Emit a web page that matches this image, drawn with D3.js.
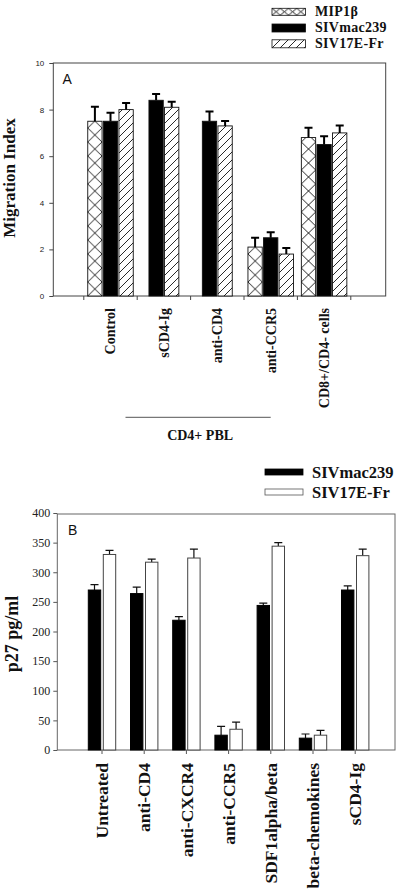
<!DOCTYPE html>
<html><head><meta charset="utf-8">
<script src="https://cdn.jsdelivr.net/npm/d3@7"></script>
<style>
html,body{margin:0;padding:0;background:#fff;}
svg{display:block;}
</style></head>
<body>
<svg id="chart" width="400" height="896"></svg>
<script>
// ---------- Panel A data ----------
const catsA = ["Control", "sCD4-Ig", "anti-CD4", "anti-CCR5", "CD8+/CD4- cells"];
const seriesA = ["MIP1β", "SIVmac239", "SIV17E-Fr"];
const mipA = [7.5, null, null, 2.1, 6.8];
const mipAErr = [0.62, null, null, 0.4, 0.42];
const macA = [7.5, 8.4, 7.5, 2.5, 6.5];
const macAErr = [0.37, 0.27, 0.42, 0.24, 0.36];
const frA = [8.0, 8.1, 7.3, 1.8, 7.0];
const frAErr = [0.28, 0.24, 0.21, 0.26, 0.32];
const yTicksA = [0, 2, 4, 6, 8, 10];
const groupLabelA = "CD4+ PBL";

// ---------- Panel B data ----------
const catsB = ["Untreated", "anti-CD4", "anti-CXCR4", "anti-CCR5", "SDF1alpha/beta", "beta-chemokines", "sCD4-Ig"];
const seriesB = ["SIVmac239", "SIV17E-Fr"];
const macB = [270, 264, 219, 25, 244, 20, 270];
const macBErr = [9, 11, 6, 15, 4, 7, 7];
const frB = [330, 317, 324, 35, 344, 25, 328];
const frBErr = [7, 5, 15, 12, 6, 8, 11];
const yTicksB = [0, 50, 100, 150, 200, 250, 300, 350, 400];

const serif = "'Liberation Serif','Times New Roman',serif";
const sans = "'Liberation Sans',Arial,sans-serif";

const svg = d3.select("#chart");
const defs = svg.append("defs");

// hatch pattern
const hatch = defs.append("pattern").attr("id", "hatch")
  .attr("patternUnits", "userSpaceOnUse").attr("width", 8).attr("height", 8);
hatch.append("rect").attr("width", 8).attr("height", 8).attr("fill", "#fff");
hatch.append("path").attr("d", "M0,8 L8,0 M-2,2 L2,-2 M6,10 L10,6")
  .attr("stroke", "#111").attr("stroke-width", 0.9);

function crossPattern(id, x, y, w, h) {
  const p = defs.append("pattern").attr("id", id)
    .attr("patternUnits", "userSpaceOnUse")
    .attr("x", x).attr("y", y).attr("width", w).attr("height", h);
  p.append("rect").attr("width", w).attr("height", h).attr("fill", "#fff");
  p.append("path").attr("d", `M0,0 L${w},${h} M${w},0 L0,${h}`)
    .attr("stroke", "#111").attr("stroke-width", 0.9);
}

// ================= PANEL A =================
const A = {left: 53.3, right: 385.7, top: 63, bottom: 296};
const yA = d3.scaleLinear().domain([0, 10]).range([A.bottom, A.top]);
const xA = d3.scaleBand().domain(catsA).range([83.8, 350.8]).padding(0);
const bwA = 14.3, stepA = 15.6;

const gA = svg.append("g");
gA.append("rect").attr("x", A.left).attr("y", A.top)
  .attr("width", A.right - A.left).attr("height", A.bottom - A.top)
  .attr("fill", "none").attr("stroke", "#444").attr("stroke-width", 1);

const axA = gA.append("g").attr("transform", `translate(${A.left},0)`)
  .call(d3.axisLeft(yA).tickValues(yTicksA).tickSize(4).tickPadding(5));
axA.select(".domain").remove();
axA.selectAll("line").attr("stroke", "#444");
axA.selectAll("text").attr("font-family", sans).attr("font-size", 8).attr("fill", "#222");

const bTicksA = catsA.map(c => xA(c)).concat([xA.range()[1]]);
gA.selectAll(".btA").data(bTicksA).join("line")
  .attr("x1", d => d).attr("x2", d => d)
  .attr("y1", A.bottom).attr("y2", A.bottom + 4)
  .attr("stroke", "#444");

const barsA = [];
catsA.forEach((c, i) => {
  const items = [];
  if (mipA[i] != null) items.push({s: 0, v: mipA[i], e: mipAErr[i]});
  if (macA[i] != null) items.push({s: 1, v: macA[i], e: macAErr[i]});
  if (frA[i] != null) items.push({s: 2, v: frA[i], e: frAErr[i]});
  const cx = xA(c) + xA.bandwidth() / 2;
  items.forEach((it, k) => {
    const center = cx + (k - (items.length - 1) / 2) * stepA;
    barsA.push({...it, c, i, x: center - bwA / 2, cx: center});
  });
});
barsA.forEach((b, j) => {
  if (b.s === 0) crossPattern("crossA" + j, b.x, yA(0), bwA, 14);
});
gA.selectAll(".barA").data(barsA).join("rect")
  .attr("x", d => d.x).attr("width", bwA)
  .attr("y", d => yA(d.v)).attr("height", d => yA(0) - yA(d.v))
  .attr("fill", (d, j) => d.s === 0 ? `url(#crossA${j})` : d.s === 1 ? "#000" : "url(#hatch)")
  .attr("stroke", "#111").attr("stroke-width", 0.9);
gA.selectAll(".errA").data(barsA).join("path")
  .attr("d", d => `M${d.cx},${yA(d.v)} V${yA(d.v + d.e)} M${d.cx - 4},${yA(d.v + d.e)} H${d.cx + 4}`)
  .attr("stroke", "#000").attr("stroke-width", 2).attr("fill", "none");

gA.append("text").attr("x", 62.5).attr("y", 83.5).text("A")
  .attr("font-family", sans).attr("font-size", 14).attr("fill", "#111");

gA.selectAll(".labA").data(catsA).join("text")
  .attr("transform", d => `translate(${xA(d) + xA.bandwidth() / 2},308) rotate(-90)`)
  .attr("dy", "0.35em").attr("text-anchor", "end")
  .attr("font-family", serif).attr("font-weight", "bold").attr("font-size", 14)
  .attr("fill", "#111").text(d => d);

gA.append("text").attr("transform", "translate(15,178) rotate(-90)")
  .attr("text-anchor", "middle").attr("font-family", serif).attr("font-weight", "bold")
  .attr("font-size", 17).attr("fill", "#111").text("Migration Index");

const gl0 = xA(catsA[0]) + xA.bandwidth() / 2 + 15;
const gl1 = xA(catsA[3]) + xA.bandwidth() / 2;
gA.append("line").attr("x1", gl0).attr("x2", gl1).attr("y1", 417.3).attr("y2", 417.3)
  .attr("stroke", "#555").attr("stroke-width", 1);
gA.append("text").attr("x", (gl0 + gl1) / 2 + 2).attr("y", 439.5).attr("text-anchor", "middle")
  .attr("font-family", serif).attr("font-weight", "bold").attr("font-size", 14)
  .attr("fill", "#111").text(groupLabelA);

// legend A
crossPattern("crossLeg", 272, 8.3, 8.25, 7);
const legA = [
  {fill: "url(#crossLeg)", y: 8.3, h: 7, ty: 15.5},
  {fill: "#000", y: 24, h: 8, ty: 32},
  {fill: "url(#hatch)", y: 39.8, h: 8, ty: 48.3}
];
legA.forEach((l, k) => {
  gA.append("rect").attr("x", 272).attr("y", l.y).attr("width", 33.5).attr("height", l.h)
    .attr("fill", l.fill).attr("stroke", "#111").attr("stroke-width", 0.8);
  gA.append("text").attr("x", 315).attr("y", l.ty).text(seriesA[k])
    .attr("font-family", serif).attr("font-weight", "bold").attr("font-size", 14)
    .attr("letter-spacing", 0.3).attr("fill", "#111");
});

// ================= PANEL B =================
const B = {left: 57.3, right: 395, top: 514, bottom: 750};
const yB = d3.scaleLinear().domain([0, 400]).range([B.bottom, 513]);
const xB = d3.scaleBand().domain(catsB).range([80.9, 376.3]).padding(0);
const bwB = 12.4, offB = 7.5;

const gB = svg.append("g");
gB.append("rect").attr("x", B.left).attr("y", B.top)
  .attr("width", B.right - B.left).attr("height", B.bottom - B.top)
  .attr("fill", "none").attr("stroke", "#666").attr("stroke-width", 1);

const axB = gB.append("g").attr("transform", `translate(${B.left},0)`)
  .call(d3.axisLeft(yB).tickValues(yTicksB).tickSize(4).tickPadding(3));
axB.select(".domain").remove();
axB.selectAll("line").attr("stroke", "#555");
axB.selectAll("text").attr("font-family", serif).attr("font-size", 12).attr("fill", "#222");

gB.selectAll(".btB").data(catsB).join("line")
  .attr("x1", d => xB(d) + xB.bandwidth() / 2).attr("x2", d => xB(d) + xB.bandwidth() / 2)
  .attr("y1", B.bottom).attr("y2", B.bottom + 4).attr("stroke", "#555");

const barsB = [];
catsB.forEach((c, i) => {
  const cx = xB(c) + xB.bandwidth() / 2;
  barsB.push({s: 0, v: macB[i], e: macBErr[i], cx: cx - offB});
  barsB.push({s: 1, v: frB[i], e: frBErr[i], cx: cx + offB});
});
gB.selectAll(".errB").data(barsB).join("path")
  .attr("d", d => `M${d.cx},${yB(d.v)} V${yB(d.v + d.e)} M${d.cx - 4},${yB(d.v + d.e)} H${d.cx + 4}`)
  .attr("stroke", "#111").attr("stroke-width", 1.2).attr("fill", "none");
gB.selectAll(".barB").data(barsB).join("rect")
  .attr("x", d => d.cx - bwB / 2).attr("width", bwB)
  .attr("y", d => yB(d.v)).attr("height", d => yB(0) - yB(d.v))
  .attr("fill", d => d.s === 0 ? "#000" : "#fff")
  .attr("stroke", d => d.s === 0 ? "#000" : "#444").attr("stroke-width", 1);

gB.append("text").attr("x", 68).attr("y", 535).text("B")
  .attr("font-family", sans).attr("font-size", 14).attr("fill", "#111");

gB.selectAll(".labB").data(catsB).join("text")
  .attr("transform", d => `translate(${xB(d) + xB.bandwidth() / 2},763) rotate(-90)`)
  .attr("dy", "0.35em").attr("text-anchor", "end")
  .attr("font-family", serif).attr("font-weight", "bold").attr("font-size", 17.5)
  .attr("fill", "#111").text(d => d);

gB.append("text").attr("transform", "translate(18,634) rotate(-90)")
  .attr("text-anchor", "middle").attr("font-family", serif).attr("font-weight", "bold")
  .attr("font-size", 18).attr("fill", "#111").text("p27 pg/ml");

const legB = [
  {fill: "#000", stroke: "#000", y: 469, ty: 477.5},
  {fill: "#fff", stroke: "#555", y: 489, ty: 497.5}
];
legB.forEach((l, k) => {
  gB.append("rect").attr("x", 265).attr("y", l.y).attr("width", 38).attr("height", 6)
    .attr("fill", l.fill).attr("stroke", l.stroke).attr("stroke-width", 0.8);
  gB.append("text").attr("x", 312).attr("y", l.ty).text(seriesB[k])
    .attr("font-family", serif).attr("font-weight", "bold").attr("font-size", 16.5).attr("fill", "#111");
});
</script>
</body></html>
